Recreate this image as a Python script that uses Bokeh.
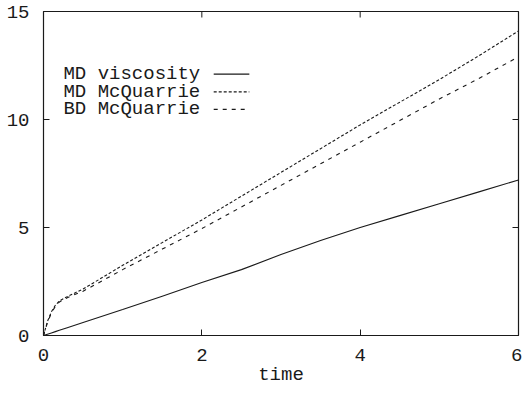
import math
from bokeh.plotting import figure
from bokeh.models import Range1d, FixedTicker
from bokeh.core.properties import value
from bokeh.embed import file_html
from bokeh.resources import INLINE

# ---- data ----
time = [0, 0.05, 0.1, 0.15, 0.2, 0.3, 0.5, 1, 1.5, 2, 2.5, 3, 3.5, 4, 4.5, 5, 5.5, 6]
md_viscosity = [0, 0.06, 0.12, 0.18, 0.24, 0.36, 0.6, 1.2, 1.82, 2.45, 3.05, 3.75, 4.4, 5.0, 5.55, 6.1, 6.65, 7.2]
md_mcquarrie = [0, 0.65, 1.1, 1.4, 1.6, 1.8, 2.15, 3.25, 4.3, 5.35, 6.45, 7.55, 8.65, 9.75, 10.8, 11.85, 12.95, 14.1]
bd_mcquarrie = [0, 0.6, 1.05, 1.35, 1.55, 1.75, 2.05, 3.05, 4.0, 4.95, 5.95, 6.95, 7.95, 8.95, 9.95, 10.95, 11.9, 12.9]

series_names = ["MD viscosity", "MD McQuarrie", "BD McQuarrie"]
x_ticks = [0, 2, 4, 6]
y_ticks = [0, 5, 10, 15]

FONT = "Liberation Mono"
FS = "19px"
INK = "#1a1a1a"

p = figure(width=522, height=390, output_backend="svg", toolbar_location=None,
           x_range=Range1d(0, 6), y_range=Range1d(0, 15),
           min_border_left=43, min_border_right=4, min_border_top=11, min_border_bottom=55)
p.background_fill_color = "white"
p.border_fill_color = "white"
p.outline_line_color = INK
p.outline_line_width = 1.2
p.xgrid.visible = False
p.ygrid.visible = False

for ax in (p.xaxis[0], p.yaxis[0]):
    ax.axis_line_color = None
    ax.major_tick_in = 6
    ax.major_tick_out = 0
    ax.major_tick_line_color = INK
    ax.minor_tick_line_color = None
    ax.major_label_text_font = FONT
    ax.major_label_text_font_size = FS
    ax.major_label_text_color = INK
    ax.axis_label_text_font = FONT
    ax.axis_label_text_font_size = FS
    ax.axis_label_text_font_style = "normal"
    ax.axis_label_text_color = INK

p.xaxis.ticker = FixedTicker(ticks=x_ticks)
p.yaxis.ticker = FixedTicker(ticks=y_ticks)
p.xaxis.major_label_standoff = 13
p.yaxis.major_label_standoff = 14
p.xaxis.axis_label = "time"
p.xaxis.axis_label_standoff = 0

# mirrored tick marks on the right and top edges of the frame
p.ray(x=[6] * len(y_ticks), y=y_ticks, length=6, length_units="screen",
      angle=math.pi, line_color=INK, line_width=1)
p.ray(x=x_ticks, y=[15] * len(x_ticks), length=6, length_units="screen",
      angle=-math.pi / 2, line_color=INK, line_width=1)

dashes = ["solid", "3 2", "4 5"]
for ys, d in zip([md_viscosity, md_mcquarrie, bd_mcquarrie], dashes):
    p.line(time, ys, line_color=INK, line_width=1.1, line_dash=d)

# legend (gnuplot style: text then sample line), placed in the upper left
leg_text_x = 1.98
leg_x0, leg_x1 = 2.15, 2.60
leg_rows = [12.10, 11.28, 10.47]
p.text(x=[leg_text_x] * 3, y=leg_rows, text=series_names,
       text_align="right", text_baseline="middle",
       text_font=value(FONT), text_font_size=value(FS), text_color=INK)
for yy, d in zip(leg_rows, dashes):
    p.segment(x0=[leg_x0], y0=[yy], x1=[leg_x1], y1=[yy], line_color=INK, line_width=1.1, line_dash=d)

open("out.html", "w").write(file_html(p, INLINE))
